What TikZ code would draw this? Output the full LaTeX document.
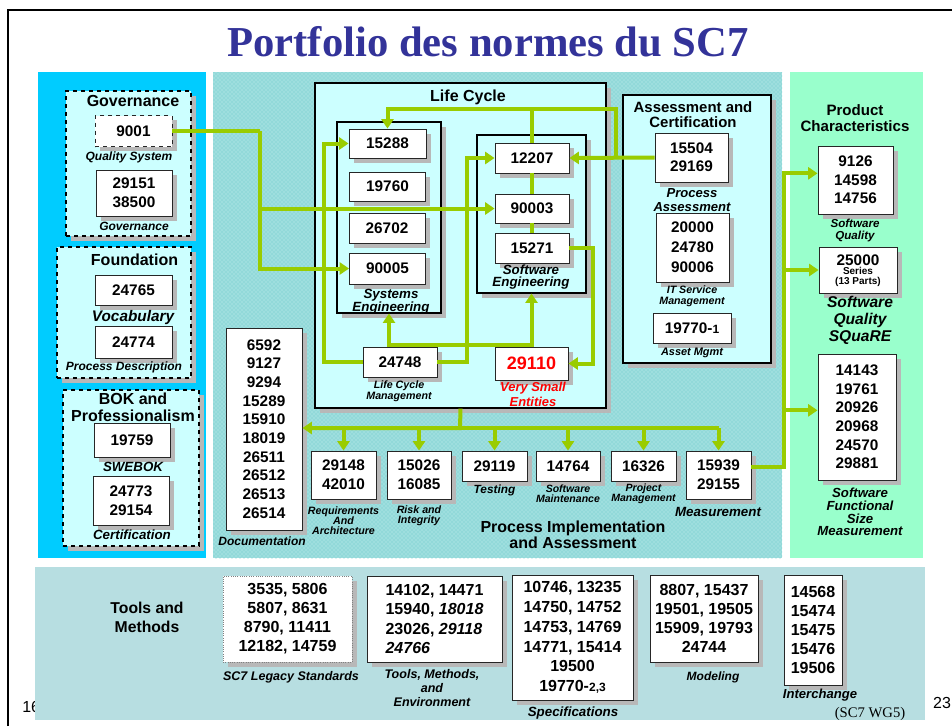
\documentclass[tikz,border=0pt]{standalone}
\usepackage{fontspec}
\setmainfont{Liberation Sans}
\newfontfamily\titlefont{Liberation Serif}
\usetikzlibrary{arrows.meta,shadows,patterns}
\definecolor{govblue}{HTML}{00CCFF}
\definecolor{procteal}{HTML}{9EDEDE}
\definecolor{procdots}{HTML}{6CCACA}
\definecolor{prodmint}{HTML}{99FFCC}
\definecolor{toolgrey}{HTML}{B7DEE1}
\definecolor{paleblue}{HTML}{CCFFFF}
\definecolor{linkgreen}{HTML}{99CC00}
\definecolor{titleblue}{HTML}{333399}
\definecolor{vsered}{HTML}{FF0000}
\begin{document}
\begin{tikzpicture}[x=0.75pt,y=-0.75pt,
	>={Triangle[length=7pt,width=9pt]},
	sz/.style 2 args={minimum width=#1*0.75pt,minimum height=#2*0.75pt},
	boxshadow/.style={drop shadow={shadow xshift=3.5pt,shadow yshift=-3.5pt,fill=black!28,opacity=1}},
	std/.style={draw=black!85,fill=white,line width=0.7pt,inner sep=0pt,align=center,boxshadow,
		font=\bfseries\fontsize{11.5}{14}\selectfont},
	grp/.style={draw=black,fill=paleblue,line width=0.8pt,inner sep=0pt,boxshadow},
	dgrp/.style={grp,dashed},
	grphead/.style={font=\bfseries\fontsize{12}{13}\selectfont,align=center,inner sep=0pt},
	lbl/.style 2 args={font=\bfseries\itshape\fontsize{#1}{#2}\selectfont,align=center,inner sep=0pt},
	flow/.style={draw=linkgreen,line width=3pt}]
	\useasboundingbox (0,0) rectangle (952,726);
	\draw[line width=2.2pt] (8,726) -- (8,10) -- (952,10);
	\node[font=\titlefont\bfseries\fontsize{32}{36}\selectfont,text=titleblue,anchor=base] (title) at (488,56) {Portfolio des normes du SC7};
	\fill[govblue] (38,72) rectangle (206,558);
	\fill[procteal] (213,72) rectangle (782,558);
	\fill[pattern=crosshatch dots,pattern color=procdots] (213,72) rectangle (782,558);
	\fill[prodmint] (790,72) rectangle (923,558);
	\node[font=\fontsize{12}{12}\selectfont,anchor=west,inner sep=0pt] (pgleft) at (22,707) {16};
	\fill[toolgrey] (35,567) rectangle (925,720);
	\node[font=\fontsize{12}{12}\selectfont,inner sep=0pt] (pgright) at (942,703) {23};
	\node[font=\titlefont\fontsize{11}{12}\selectfont,inner sep=0pt] (wgfive) at (870,714) {(SC7 WG5)};

	\node[dgrp,sz={125}{145}] (govgrp) at (128.5,163.5) {};
	\node[grphead] (govhd) at (133,101) {Governance};
	\node[std,dashed,sz={77}{31}] (n9001) at (133.5,131) {9001};
	\node[lbl={9}{9}] (govqs) at (129,157) {Quality System};
	\node[std,sz={76}{46}] (n29151) at (134,193) {29151\\38500};
	\node[lbl={9}{9}] (govgv) at (134,226) {Governance};

	\node[dgrp,sz={134}{131}] (fndgrp) at (124,312.5) {};
	\node[grphead] (fndhd) at (134.5,260) {Foundation};
	\node[std,sz={77}{30}] (n24765) at (133.5,290) {24765};
	\node[lbl={11.5}{12}] (fndvc) at (133,318) {Vocabulary};
	\node[std,sz={77}{32}] (n24774) at (133.5,342) {24774};
	\node[lbl={9}{9}] (fndpd) at (124,367) {Process Description};

	\node[dgrp,sz={136}{156}] (bokgrp) at (131,468) {};
	\node[grphead] (bokhd) at (133,407.5) {BOK and\\Professionalism};
	\node[std,sz={76}{34}] (n19759) at (132,440) {19759};
	\node[lbl={10}{10}] (bokswe) at (133,467) {SWEBOK};
	\node[std,sz={76}{49}] (n24773) at (131,500.5) {24773\\29154};
	\node[lbl={10}{10}] (bokcert) at (132,535) {Certification};

	\node[grp,sz={291}{325}] (lifecycle) at (460.5,245.5) {};
	\node[grphead] (lchd) at (468,97) {Life Cycle};
	\node[grp,sz={104}{191}] (sysgrp) at (389,217.5) {};
	\node[std,sz={77}{29}] (n15288) at (387.5,143.5) {15288};
	\node[std,sz={76}{29}] (n19760) at (387.5,186.5) {19760};
	\node[std,sz={76}{30}] (n26702) at (387,228) {26702};
	\node[std,sz={76}{31}] (n90005) at (387.5,268.5) {90005};
	\node[lbl={10}{9.8}] (syslbl) at (391,301.5) {Systems\\Engineering};
	\node[grp,sz={109}{158}] (swgrp) at (531.5,214) {};
	\node[std,sz={74}{30}] (n12207) at (532,158) {12207};
	\node[std,sz={74}{29}] (n90003) at (532,208.5) {90003};
	\node[std,sz={74}{30}] (n15271) at (532,248) {15271};
	\node[lbl={10}{9}] (swlbl) at (531,277.5) {Software\\Engineering};
	\node[std,sz={74}{30}] (n24748) at (400,362) {24748};
	\node[lbl={8}{8.3}] (lcmlbl) at (399,391.5) {Life Cycle\\Management};
	\node[std,sz={73}{33},text=vsered,font=\bfseries\fontsize{13.5}{14}\selectfont] (n29110) at (531.5,363.5) {29110};
	\node[lbl={9.7}{11},text=vsered] (vselbl) at (533,394.5) {Very Small\\Entities};

	\node[grp,sz={148}{268}] (assess) at (697,229) {};
	\node[grphead,font=\bfseries\fontsize{11.2}{11.5}\selectfont] (asshd) at (693,114.5) {Assessment and\\Certification};
	\node[std,sz={73}{49},font=\bfseries\fontsize{11.5}{13.8}\selectfont] (n15504) at (691.5,157.5) {15504\\29169};
	\node[lbl={9.8}{10.5}] (palbl) at (692,200) {Process\\Assessment};
	\node[std,sz={73}{69},font=\bfseries\fontsize{11.5}{15}\selectfont] (n20000) at (692.5,247.5) {20000\\24780\\90006};
	\node[lbl={8}{8.3}] (itlbl) at (692,296.5) {IT Service\\Management};
	\node[std,sz={78}{30}] (n19770) at (692,328) {19770-{\fontsize{9}{9}\selectfont 1}};
	\node[lbl={8.2}{8.2}] (amlbl) at (692,353) {Asset Mgmt};

	\node[grphead,font=\bfseries\fontsize{11.3}{12}\selectfont] (prodhd) at (855,118) {Product\\Characteristics};
	\node[std,sz={75}{68}] (n9126) at (855.5,180) {9126\\14598\\14756};
	\node[lbl={8.7}{9}] (sqlbl) at (855,230) {Software\\Quality};
	\node[std,sz={78}{46}] (n25000) at (858,270) {};
	\node[font=\bfseries\fontsize{11.5}{12}\selectfont,inner sep=0pt] (n25000a) at (858,260) {25000};
	\node[font=\bfseries\fontsize{7.5}{7.5}\selectfont,align=center,inner sep=0pt] (n25000b) at (858,277) {Series\\(13 Parts)};
	\node[lbl={11.7}{13}] (sqrlbl) at (860,320.5) {Software\\Quality\\SQuaRE};
	\node[std,sz={78}{126}] (n14143) at (857,417) {14143\\19761\\20926\\20968\\24570\\29881};
	\node[lbl={9.9}{9.5}] (fsmlbl) at (860,512) {Software\\Functional\\Size\\Measurement};

	\node[std,sz={76}{202}] (docbox) at (264,429) {6592\\9127\\9294\\15289\\15910\\18019\\26511\\26512\\26513\\26514};
	\node[lbl={9}{9}] (doclbl) at (262,541) {Documentation};
	\node[std,sz={65}{48}] (p29148) at (343.5,475) {29148\\42010};
	\node[lbl={8}{7.5}] (rqlbl) at (343.5,521) {Requirements\\And\\Architecture};
	\node[std,sz={64}{48}] (p15026) at (419,475) {15026\\16085};
	\node[lbl={8}{7.5}] (rilbl) at (419,516) {Risk and\\Integrity};
	\node[std,sz={65}{30}] (p29119) at (494.5,466) {29119};
	\node[lbl={8.9}{9}] (tslbl) at (494.5,490) {Testing};
	\node[std,sz={64}{30}] (p14764) at (568,466) {14764};
	\node[lbl={7.9}{7.5}] (smlbl) at (568,494) {Software\\Maintenance};
	\node[std,sz={65}{30}] (p16326) at (643.5,466) {16326};
	\node[lbl={7.9}{7.5}] (pmlbl) at (643.5,494) {Project\\Management};
	\node[std,sz={65}{48}] (p15939) at (718.5,475) {15939\\29155};
	\node[lbl={10}{10}] (mslbl) at (718,512) {Measurement};
	\node[grphead,font=\bfseries\fontsize{12}{12}\selectfont] (prochd) at (573,535) {Process Implementation\\and Assessment};

	\node[grphead,font=\bfseries\fontsize{11.8}{14}\selectfont] (toolhd) at (147,617.5) {Tools and\\Methods};
	\node[std,draw=black!50,densely dotted,sz={129}{86},font=\bfseries\fontsize{12}{14.3}\selectfont] (legacy) at (287.5,619) {3535, 5806\\5807, 8631\\8790, 11411\\12182, 14759};
	\node[lbl={9.4}{9.4}] (leglbl) at (291,677) {SC7 Legacy Standards};
	\node[std,align=left,sz={135}{86},font=\bfseries\fontsize{12}{14.3}\selectfont] (toolsm) at (434.5,619) {14102, 14471\\15940, \textit{18018}\\23026, \textit{29118}\\\textit{24766}};
	\node[lbl={9.4}{10.5}] (tmlbl) at (432,688) {Tools, Methods,\\and\\Environment};
	\node[std,sz={121}{125},font=\bfseries\fontsize{12}{14.8}\selectfont] (spec) at (572.5,637.5) {10746, 13235\\14750, 14752\\14753, 14769\\14771, 15414\\19500\\19770-{\fontsize{9}{9}\selectfont 2,3}};
	\node[lbl={10}{10}] (speclbl) at (573,713) {Specifications};
	\node[std,sz={108}{87},font=\bfseries\fontsize{12}{14.3}\selectfont] (model) at (704,618.5) {8807, 15437\\19501, 19505\\15909, 19793\\24744};
	\node[lbl={9}{9}] (modlbl) at (713,677) {Modeling};
	\node[std,sz={58}{110},font=\bfseries\fontsize{12}{14.3}\selectfont] (inter) at (813,630) {14568\\15474\\15475\\15476\\19506};
	\node[lbl={9.8}{9.8}] (intlbl) at (820,695) {Interchange};

	\coordinate (jgov) at (260,131);
	\draw[flow] (n9001.east) -- (jgov);
	\draw[flow,->] (jgov) |- (n90005.west);
	\draw[flow,->] (jgov |- n90003.west) -- (n90003.west);
	\draw[flow,->] (n24748.west) -- ++(-39,0) |- (n15288.west);
	\draw[flow,->] (n24748.east) -- ++(30,0) |- (n12207.west);
	\draw[flow,<->] (sysgrp.south) -- ++(0,31) -| (swgrp.south);
	\coordinate (jtop) at (616,109);
	\draw[flow,->] (n15504.west) -- (n12207.east);
	\draw[flow,->] (n15504.west -| jtop) -- (jtop) -| (n15288.north);
	\draw[flow] (n12207.north) -- (n12207.north |- jtop);
	\draw[flow] (n12207.south) -- (n90003.north) (n90003.south) -- (n15271.north);
	\draw[flow,->] (n15271.east) -- ++(24,0) |- (n29110.east);
	\coordinate (jproc) at (460,428);
	\draw[flow,->] (lifecycle.south) -- (jproc) -- (jproc -| docbox.east);
	\draw[flow] (jproc) -- (jproc -| p15939.north);
	\foreach \p in {p29148,p15026,p29119,p14764,p16326,p15939}
		\draw[flow,->] (jproc -| \p.north) -- (\p.north);
	\coordinate (jprod) at (784,467);
	\coordinate (a9126) at ([yshift=5pt]n9126.west);
	\coordinate (a14143) at ([yshift=5pt]n14143.west);
	\draw[flow,->] ([yshift=6pt]p15939.east) -- (jprod) |- (a9126);
	\draw[flow,->] (jprod |- n25000.west) -- (n25000.west);
	\draw[flow,->] (jprod |- a14143) -- (a14143);
\end{tikzpicture}
\end{document}
